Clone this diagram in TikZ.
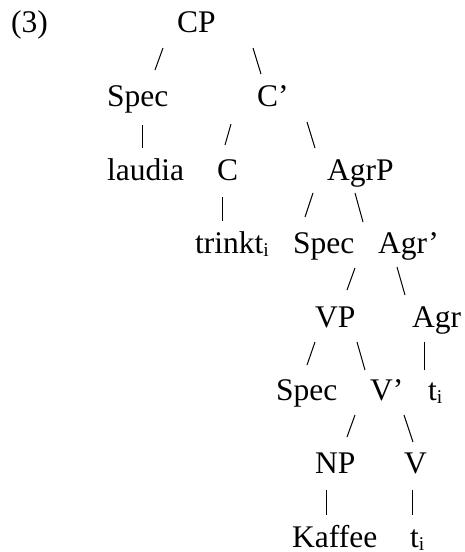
\documentclass[tikz,border=0pt]{standalone}
\usepackage{fontspec}
\setmainfont{Liberation Serif}
\usepackage{graphicx}
\newcommand\subi{\raisebox{-3.5pt}{\scalebox{0.62}{i}}}
\tikzset{
  lab/.style={anchor=base west,inner sep=0pt,font=\fontsize{31.5}{38}\selectfont},
  branch/.style={line width=1pt,black}
}
\begin{document}
\begin{tikzpicture}[x=1pt,y=-1pt]
\useasboundingbox (0,0) rectangle (465,552);
% labels
\node[lab] (ex) at (11,32) {(3)};
\node[lab] (cp) at (177,32) {CP};
\node[lab] (spec1) at (107,106) {Spec};
\node[lab] (cbar) at (257,106) {C’};
\node[lab] (laudia) at (107,180) {laudia};
\node[lab] (c) at (217,180) {C};
\node[lab] (agrp) at (327,180) {AgrP};
\node[lab] (trinkt) at (195,253) {trinkt\subi};
\node[lab] (spec2) at (293,253) {Spec};
\node[lab] (agrbar) at (378,253) {Agr’};
\node[lab] (vp) at (315,327) {VP};
\node[lab] (agr) at (412,327) {Agr};
\node[lab] (spec3) at (276,400) {Spec};
\node[lab] (vbar) at (370,400) {V’};
\node[lab] (t1) at (428,400) {t\subi};
\node[lab] (np) at (315,473) {NP};
\node[lab] (v) at (404,473) {V};
\node[lab] (kaffee) at (292,547) {Kaffee};
\node[lab] (t2) at (410,547) {t\subi};
% branch end points
\coordinate (b1a) at (163,48);  \coordinate (b1b) at (155,70);
\coordinate (b2a) at (253,48);  \coordinate (b2b) at (261,74);
\coordinate (b3a) at (142,125); \coordinate (b3b) at (142,148);
\coordinate (b4a) at (231,124); \coordinate (b4b) at (225,145);
\coordinate (b5a) at (307,122); \coordinate (b5b) at (315,148);
\coordinate (b6a) at (222,197); \coordinate (b6b) at (222,221);
\coordinate (b7a) at (313,193); \coordinate (b7b) at (305,217);
\coordinate (b8a) at (355,193); \coordinate (b8b) at (363,222);
\coordinate (b9a) at (355,268); \coordinate (b9b) at (347,290);
\coordinate (b10a) at (397,267); \coordinate (b10b) at (405,295);
\coordinate (b11a) at (315,342); \coordinate (b11b) at (307,365);
\coordinate (b12a) at (357,342); \coordinate (b12b) at (365,370);
\coordinate (b13a) at (424,342); \coordinate (b13b) at (424,370);
\coordinate (b14a) at (355,415); \coordinate (b14b) at (347,437);
\coordinate (b15a) at (404,415); \coordinate (b15b) at (413,442);
\coordinate (b16a) at (326,490); \coordinate (b16b) at (326,515);
\coordinate (b17a) at (412,490); \coordinate (b17b) at (412,515);
\foreach \i in {1,...,17} {\draw[branch] (b\i a) -- (b\i b);}
\end{tikzpicture}
\end{document}
